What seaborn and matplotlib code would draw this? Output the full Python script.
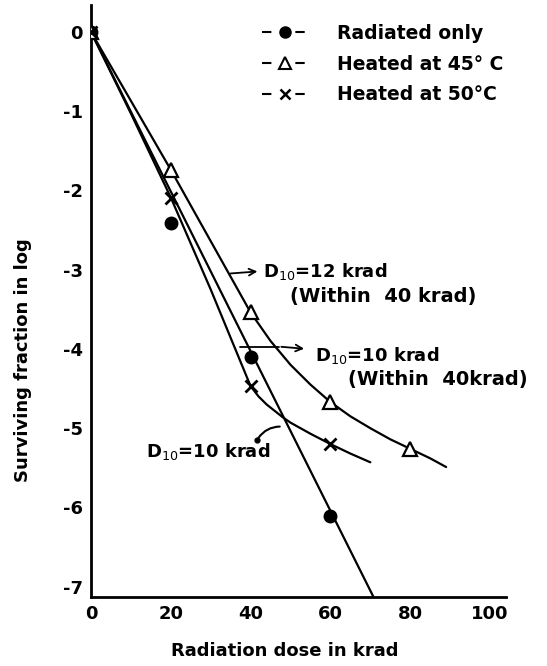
import numpy as np
import pandas as pd
import matplotlib
matplotlib.use('Agg')
import matplotlib.pyplot as plt
from matplotlib.lines import Line2D
import seaborn as sns

sns.set_theme(style='white')
plt.rcParams['font.family'] = ['DejaVu Sans']
plt.rcParams['axes.unicode_minus'] = False
plt.rcParams['text.color'] = 'black'
plt.rcParams['axes.labelcolor'] = 'black'
plt.rcParams['xtick.color'] = 'black'
plt.rcParams['ytick.color'] = 'black'

# measured points
dose = [0, 20, 40, 60, 80]
radiated_y = [0, -2.41, -4.1, -6.11]
heated45_y = [0, -1.74, -3.54, -4.67, -5.26]
heated50_y = [0, -2.09, -4.47, -5.2]

# fitted curves as drawn in the figure
rad_line_x = [0, 70.7]
rad_line_y = [0, -7.12]
h45_curve_x = [0, 10, 20, 30, 40, 45, 50, 55, 60, 65, 70, 75, 80, 85, 89]
h45_curve_y = [0, -0.87, -1.74, -2.64, -3.54, -3.9, -4.2, -4.45, -4.67,
               -4.85, -5.0, -5.14, -5.26, -5.38, -5.49]
h50_curve_x = [0, 10, 20, 30, 40, 42, 44, 46, 48, 50, 55, 60, 65, 70]
h50_curve_y = [0, -1.03, -2.09, -3.25, -4.47, -4.6, -4.7, -4.78, -4.86,
               -4.93, -5.07, -5.2, -5.32, -5.43]

x_ticks = [0, 20, 40, 60, 80, 100]
y_ticks = [0, -1, -2, -3, -4, -5, -6, -7]
y_tick_labels = ['0', '-1', '-2', '-3', '-4', '-5', '-6', '-7']

fig = plt.figure(figsize=(5.47, 6.66), dpi=100)
ax = fig.add_axes([0.1664, 0.1036, 0.925 - 0.1664, 0.9925 - 0.1036])

lw = 1.6
sns.lineplot(x=rad_line_x, y=rad_line_y, ax=ax, color='black', lw=lw, sort=False)
sns.lineplot(x=h45_curve_x, y=h45_curve_y, ax=ax, color='black', lw=lw, sort=False)
sns.lineplot(x=h50_curve_x, y=h50_curve_y, ax=ax, color='black', lw=lw, sort=False)

ax.plot(dose[:len(radiated_y)], radiated_y, 'o', color='black', ms=9, zorder=5)
ax.plot(dose[:len(heated45_y)], heated45_y, '^', mfc='white', mec='black', mew=1.6, ms=10, zorder=5)
ax.plot(dose[:len(heated50_y)], heated50_y, 'x', color='black', mew=2, ms=8, zorder=5)

ax.set_xlim(0, 104)
ax.set_ylim(-7.13, 0.34)
ax.set_xticks(x_ticks)
ax.set_xticklabels([str(v) for v in x_ticks])
ax.set_yticks(y_ticks)
ax.set_yticklabels(y_tick_labels)
ax.tick_params(direction='in', length=5, width=1.3, labelsize=13, pad=6, colors='black')
for lab in ax.get_xticklabels() + ax.get_yticklabels():
    lab.set_fontweight('bold')

sns.despine(ax=ax)
for s in ['left', 'bottom']:
    ax.spines[s].set_color('black')
    ax.spines[s].set_linewidth(2)

ax.set_xlabel('Radiation dose in krad', fontsize=13, fontweight='bold')
ax.set_ylabel('Surviving fraction in log', fontsize=13, fontweight='bold')
ax.xaxis.set_label_coords(0.467, -0.076)
ax.yaxis.set_label_coords(-0.142, 0.40)

# annotations
tfs = 13
ax.text(43.1, -3.02, 'D$_{10}$=12 krad', fontsize=tfs, va='center', ha='left', fontweight='bold')
ax.text(49.9, -3.34, '(Within  40 krad)', fontsize=14, va='center', ha='left', fontweight='bold')
ax.annotate('', xy=(42.4, -3.02), xytext=(34.3, -3.05),
            arrowprops=dict(arrowstyle='->', color='black', lw=1.3))

ax.text(56.1, -4.08, 'D$_{10}$=10 krad', fontsize=tfs, va='center', ha='left', fontweight='bold')
ax.text(64.4, -4.38, '(Within  40krad)', fontsize=14, va='center', ha='left', fontweight='bold')
ax.plot([37.3, 47.0], [-3.97, -3.97], color='black', lw=1.3)
ax.annotate('', xy=(54.1, -4.0), xytext=(47.0, -3.97),
            arrowprops=dict(arrowstyle='->', color='black', lw=1.3))

ax.text(13.8, -5.29, 'D$_{10}$=10 krad', fontsize=tfs, va='center', ha='left', fontweight='bold')
ax.annotate('', xy=(48.0, -4.98), xytext=(41.6, -5.15),
            arrowprops=dict(arrowstyle='-', color='black', lw=1.5,
                            connectionstyle='arc3,rad=-0.3'))
ax.plot([41.6], [-5.15], 'o', color='black', ms=3.5)

# legend
dash = (0, (4.5, 11.5))
handles = [
    Line2D([], [], color='black', lw=1.5, linestyle=dash, marker='o', ms=8),
    Line2D([], [], color='black', lw=1.5, linestyle=dash, marker='^', ms=8, mfc='white', mew=1.5),
    Line2D([], [], color='black', lw=1.5, linestyle=dash, marker='x', ms=7, mew=1.8),
]
labels = ['Radiated only', 'Heated at 45° C', 'Heated at 50°C']
leg = ax.legend(handles, labels, loc='upper left', bbox_to_anchor=(0.412, 0.968),
                frameon=False, borderaxespad=0, borderpad=0, handlelength=2.5,
                handletextpad=1.5, labelspacing=0.62,
                prop={'size': 13.5, 'weight': 'bold'})

fig.savefig('out.png', dpi=100, facecolor='white')
